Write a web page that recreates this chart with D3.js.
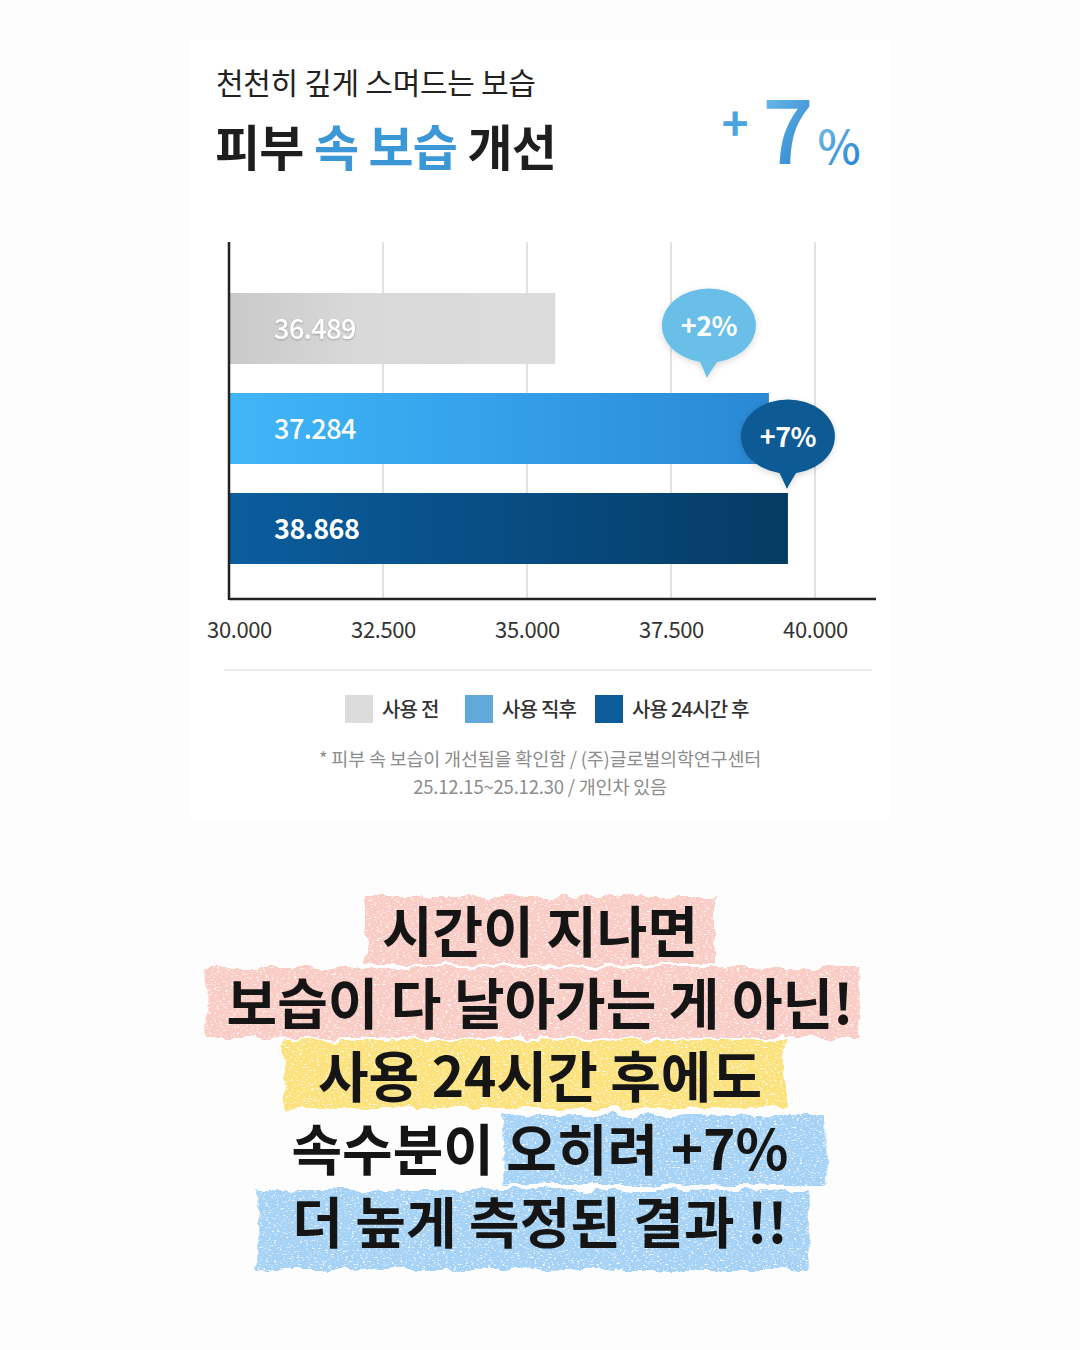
<!DOCTYPE html>
<html><head><meta charset="utf-8">
<script src="https://cdn.jsdelivr.net/npm/d3@7"></script>
<style>
html,body{margin:0;padding:0;background:#fdfdfd;}
svg{display:block;font-family:"Noto Sans CJK KR","Noto Sans",sans-serif;}
</style></head>
<body>
<svg id="c" width="1080" height="1350"></svg>
<script>
// ---- data ----
const categories = ["사용 전", "사용 직후", "사용 24시간 후"];
const valueLabels = ["36.489", "37.284", "38.868"];
const barEnds = [35490, 39200, 39530];        // bar ends as drawn on the axis
const tickValues = [30000, 32500, 35000, 37500, 40000];
const tickLabels = ["30.000", "32.500", "35.000", "37.500", "40.000"];
const badgeLabels = ["+2%", "+7%"];
const titleLine1 = "천천히 깊게 스며드는 보습";
const titleParts = [["피부 ", "#1e1e1e"], ["속 보습", "#3b97d6"], [" 개선", "#1e1e1e"]];
const headline = ["+", "7", "%"];
const footnotes = ["* 피부 속 보습이 개선됨을 확인함 / (주)글로벌의학연구센터", "25.12.15~25.12.30 / 개인차 있음"];
const messageLines = [
  [["시간이 지나면", "pink"]],
  [["보습이 다 날아가는 게 아닌!", "pink"]],
  [["사용 24시간 후에도", "yellow"]],
  [["속수분이 ", null], ["오히려 +7%", "blue"]],
  [["더 높게 측정된 결과 !!", "blue"]]
];

const svg = d3.select("#c");
const defs = svg.append("defs");

function grad(id, stops, x2 = "100%", y2 = "0%") {
  const g = defs.append("linearGradient").attr("id", id).attr("x1", "0%").attr("y1", "0%").attr("x2", x2).attr("y2", y2);
  stops.forEach(s => g.append("stop").attr("offset", s[0]).attr("stop-color", s[1]));
}
grad("g0", [["0%", "#c9c9c9"], ["40%", "#d9d9d9"], ["100%", "#dcdcdc"]]);
grad("g1", [["0%", "#40b6f7"], ["50%", "#34a0ea"], ["100%", "#2a88d4"]]);
grad("g2", [["0%", "#0b5d9e"], ["60%", "#07497d"], ["100%", "#053b63"]]);
grad("g7", [["0%", "#7cc6ee"], ["100%", "#2b86cf"]], "60%", "100%");
const barGrads = ["url(#g0)", "url(#g1)", "url(#g2)"];
const legendColors = ["#dcdcdc", "#62a8da", "#0b5c98"];
const badgeColors = ["#6bbfe9", "#0b5a94"];

const shadow = defs.append("filter").attr("id", "sh").attr("x", "-30%").attr("y", "-30%").attr("width", "160%").attr("height", "160%");
shadow.append("feDropShadow").attr("dx", 0).attr("dy", 2).attr("stdDeviation", 3).attr("flood-color", "#000").attr("flood-opacity", 0.15);
const tsh = defs.append("filter").attr("id", "tsh");
tsh.append("feDropShadow").attr("dx", 0).attr("dy", 1).attr("stdDeviation", 1.2).attr("flood-color", "#777").attr("flood-opacity", 0.6);

// crayon filter
const cr = defs.append("filter").attr("id", "crayon").attr("x", "-5%").attr("y", "-10%").attr("width", "110%").attr("height", "120%");
cr.append("feTurbulence").attr("type", "fractalNoise").attr("baseFrequency", "0.05").attr("numOctaves", 3).attr("seed", 4).attr("result", "n");
cr.append("feDisplacementMap").attr("in", "SourceGraphic").attr("in2", "n").attr("scale", 12).attr("xChannelSelector", "R").attr("yChannelSelector", "G").attr("result", "d");
cr.append("feTurbulence").attr("type", "fractalNoise").attr("baseFrequency", "0.35 0.7").attr("numOctaves", 2).attr("seed", 9).attr("result", "n2");
cr.append("feColorMatrix").attr("in", "n2").attr("type", "matrix")
  .attr("values", "0 0 0 0 0  0 0 0 0 0  0 0 0 0 0  0 0 0 -5 3.9").attr("result", "m");
cr.append("feComposite").attr("in", "d").attr("in2", "m").attr("operator", "in");

// background panel
svg.append("rect").attr("x", 0).attr("y", 0).attr("width", 1080).attr("height", 1350).attr("fill", "#fdfdfd");
svg.append("rect").attr("x", 190).attr("y", 40).attr("width", 700).attr("height", 780).attr("fill", "#ffffff");

// titles
svg.append("text").attr("x", 216).attr("y", 94).attr("font-size", 30).attr("letter-spacing", -0.3)
  .attr("fill", "#222").text(titleLine1);
const t2 = svg.append("text").attr("x", 215).attr("y", 166).attr("font-size", 49).attr("font-weight", 700).attr("letter-spacing", -0.8);
titleParts.forEach(p => t2.append("tspan").attr("fill", p[1]).text(p[0]));
svg.append("text").attr("x", 735).attr("y", 141).attr("text-anchor", "middle").attr("font-size", 46).attr("font-weight", 700).attr("fill", "#4aa3de").text(headline[0]);
svg.append("text").attr("x", 788).attr("y", 164).attr("text-anchor", "middle").attr("font-size", 90).attr("font-weight", 500).attr("fill", "url(#g7)").text(headline[1]);
svg.append("text").attr("x", 839).attr("y", 164).attr("text-anchor", "middle").attr("font-size", 46).attr("font-weight", 500).attr("fill", "url(#g7)").text(headline[2]);

// scales
const x = d3.scaleLinear().domain([30000, 40000]).range([239, 815]);
const y = d3.scaleBand().domain(categories).range([278.5, 578.5]).paddingInner(0.29).paddingOuter(0.145);
const axisX0 = 229, axisY = 599, chartTop = 242;

// gridlines
svg.append("g").selectAll("line").data(tickValues.slice(1)).join("line")
  .attr("x1", d => x(d)).attr("x2", d => x(d)).attr("y1", chartTop).attr("y2", axisY)
  .attr("stroke", "#d8d8d8").attr("stroke-width", 1.5);

// bars
const bars = svg.append("g");
bars.selectAll("rect").data(categories).join("rect")
  .attr("x", axisX0).attr("y", d => y(d))
  .attr("width", (d, i) => x(barEnds[i]) - axisX0).attr("height", y.bandwidth())
  .attr("fill", (d, i) => barGrads[i]);
bars.selectAll("text").data(categories).join("text")
  .attr("x", 274).attr("y", d => y(d) + y.bandwidth() / 2 + 10)
  .attr("font-size", 27).attr("font-weight", (d, i) => i === 2 ? 600 : 500).attr("letter-spacing", -0.5)
  .attr("fill", "#fff").attr("filter", (d, i) => i === 0 ? "url(#tsh)" : null)
  .text((d, i) => valueLabels[i]);

// axes
const xAxis = d3.axisBottom(x).tickValues(tickValues).tickFormat((d, i) => tickLabels[i]).tickSize(0).tickPadding(0);
const ax = svg.append("g").attr("transform", `translate(0,${axisY})`).call(xAxis);
ax.select(".domain").remove();
ax.selectAll("text").attr("y", 39).attr("dy", 0).attr("font-size", 22).attr("fill", "#333")
  .attr("font-family", "\"Noto Sans CJK KR\",sans-serif").attr("letter-spacing", -0.4);
svg.append("line").attr("x1", axisX0).attr("x2", 876).attr("y1", axisY).attr("y2", axisY).attr("stroke", "#222").attr("stroke-width", 2.5);
svg.append("line").attr("x1", axisX0).attr("x2", axisX0).attr("y1", chartTop).attr("y2", axisY + 1).attr("stroke", "#222").attr("stroke-width", 2.5);

// badges
const badgeCenters = [
  { cx: x(barEnds[1]) - 60, cy: y(categories[0]) + y.bandwidth() / 2 - 3, tip: x(barEnds[1]) - 62 },
  { cx: x(barEnds[2]), cy: y(categories[1]) + y.bandwidth() / 2 + 8, tip: x(barEnds[2]) - 1 }
];
const bg = svg.append("g").selectAll("g").data(badgeLabels).join("g");
bg.append("path").attr("filter", "url(#sh)").attr("fill", (d, i) => badgeColors[i])
  .attr("d", (d, i) => {
    const b = badgeCenters[i];
    return `M${b.cx - 10},${b.cy + 33} L${b.tip},${b.cy + 52} L${b.cx + 10},${b.cy + 33} Z`;
  });
bg.append("ellipse").attr("filter", "url(#sh)").attr("fill", (d, i) => badgeColors[i])
  .attr("cx", (d, i) => badgeCenters[i].cx).attr("cy", (d, i) => badgeCenters[i].cy).attr("rx", 47).attr("ry", 37);
bg.append("path").attr("fill", (d, i) => badgeColors[i])
  .attr("d", (d, i) => {
    const b = badgeCenters[i];
    return `M${b.cx - 10},${b.cy + 30} L${b.tip},${b.cy + 52} L${b.cx + 10},${b.cy + 30} Z`;
  });
bg.append("text").attr("x", (d, i) => badgeCenters[i].cx).attr("y", (d, i) => badgeCenters[i].cy + 10)
  .attr("text-anchor", "middle").attr("font-size", 27).attr("font-weight", 700).attr("fill", "#fff").attr("letter-spacing", -0.5)
  .text(d => d);

// separator
svg.append("line").attr("x1", 224).attr("x2", 872).attr("y1", 670).attr("y2", 670).attr("stroke", "#ececec").attr("stroke-width", 2);

// legend
const legendX = [345, 465, 595];
const lg = svg.append("g").selectAll("g").data(categories).join("g").attr("transform", (d, i) => `translate(${legendX[i]},695)`);
lg.append("rect").attr("width", 28).attr("height", 28).attr("fill", (d, i) => legendColors[i]);
lg.append("text").attr("x", 37).attr("y", 22).attr("font-size", 20).attr("font-weight", 500).attr("fill", "#333").attr("letter-spacing", -0.8).text(d => d);

// footnotes
svg.append("g").selectAll("text").data(footnotes).join("text")
  .attr("x", 540).attr("y", (d, i) => 766 + i * 28).attr("text-anchor", "middle")
  .attr("font-size", 18.5).attr("fill", "#8c8c8c").attr("letter-spacing", -0.2).text(d => d);

// message with crayon highlights
const hlColors = { pink: "#f9cdc6", yellow: "#fce27c", blue: "#a6d3f5" };
const msgBase = [952, 1024, 1097, 1170, 1243];
const hlPad = [[16, 16], [20, 6], [34, 22], [4, 38], [34, 22]];
const hlBox = [[-55, 68], [-56, 70], [-57, 68], [-55, 70], [-53, 80]];
const hlLayer = svg.append("g");
const txLayer = svg.append("g");
messageLines.forEach((parts, li) => {
  const t = txLayer.append("text").attr("x", 540).attr("y", msgBase[li]).attr("text-anchor", "middle")
    .attr("font-size", 55).attr("font-weight", 700).attr("fill", "#151515").attr("letter-spacing", 0);
  const spans = parts.map(p => t.append("tspan").text(p[0]));
  spans.forEach((s, si) => {
    const col = parts[si][1];
    if (!col) return;
    const n = s.node();
    const nChars = n.getNumberOfChars();
    const start = n.getStartPositionOfChar(0).x;
    const end = n.getEndPositionOfChar(nChars - 1).x;
    hlLayer.append("rect").attr("x", start - hlPad[li][0]).attr("y", msgBase[li] + hlBox[li][0])
      .attr("width", end - start + hlPad[li][0] + hlPad[li][1]).attr("height", hlBox[li][1])
      .attr("fill", hlColors[col]).attr("filter", "url(#crayon)");
  });
});
</script>
</body></html>
